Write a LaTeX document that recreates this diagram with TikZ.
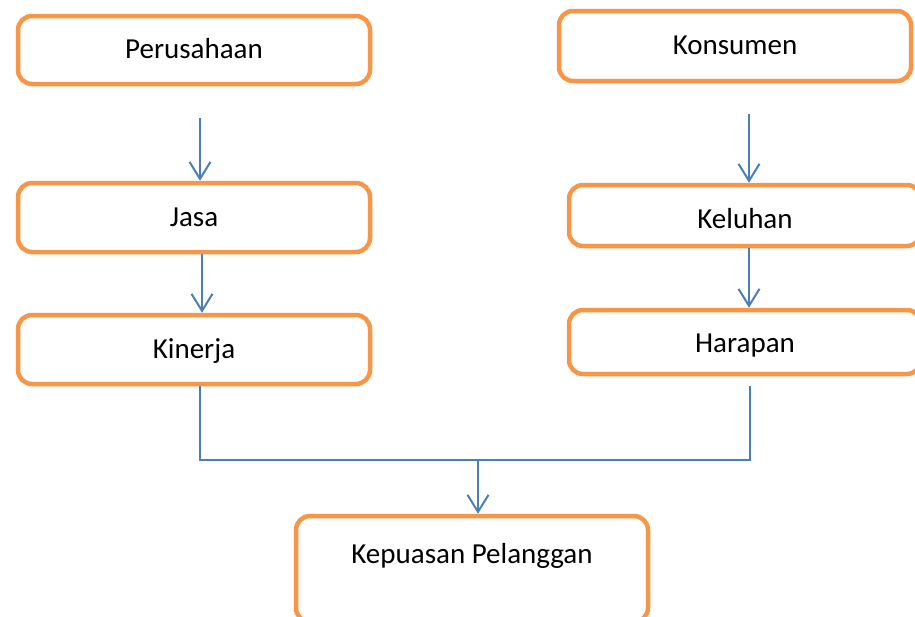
\documentclass[tikz,border=0pt]{standalone}
\usepackage{fontspec}
\setmainfont{Carlito}
\usetikzlibrary{arrows.meta}
\definecolor{boxorange}{HTML}{F79646}
\definecolor{linkblue}{HTML}{4A7EBB}
\tikzset{
  boxfont/.style={font=\fontsize{29}{34}\selectfont, text=black},
  flowbox/.style={draw=boxorange, line width=4.5pt, rounded corners=14pt, fill=white,
    minimum width=352pt, inner sep=0pt, boxfont, text height=17pt, text depth=0pt},
  conn/.style={draw=linkblue, line width=2pt},
  arr/.style={conn, -{Straight Barb[length=17pt,width=21pt,line width=2pt]}},
}
\begin{document}
\begin{tikzpicture}[x=1pt,y=-1pt]
\useasboundingbox (0,0) rectangle (915,616);
\clip (0,0) rectangle (915,616);
\node[flowbox, minimum height=68pt] (per) at (194,50) {Perusahaan};
\node[flowbox, minimum height=69pt] (jasa) at (194,217.5) {Jasa};
\node[flowbox, minimum height=69pt] (kin) at (194,349.5) {Kinerja};
\node[flowbox, minimum height=70pt] (kon) at (735,46) {Konsumen};
\node[flowbox, minimum height=61pt] (kel) at (745,215.5) {\raisebox{-4pt}{Keluhan}};
\node[flowbox, minimum height=64pt] (har) at (745,342) {\raisebox{-2pt}{Harapan}};
\node[flowbox, minimum height=106pt] (kep) at (472,569) {};
\node[boxfont, inner sep=0pt, anchor=base] (kept) at (472,563) {Kepuasan Pelanggan};
\coordinate (jm) at (478,460);
\draw[arr, shorten <=32pt] ([xshift=6pt]per.south) -- ([xshift=6pt]jasa.north);
\draw[arr] ([xshift=8pt]jasa.south) -- ([xshift=8pt]kin.north);
\draw[arr, shorten <=31pt] ([xshift=4pt]kel.north |- kon.south) -- ([xshift=4pt]kel.north);
\draw[arr] ([xshift=4pt]kel.south) -- ([xshift=4pt]har.north);
\draw[conn] ([xshift=6pt]kin.south) |- (jm) -| ([xshift=5pt,yshift=-10pt]har.south);
\draw[arr] (jm) -- ([xshift=6pt]kep.north);
\end{tikzpicture}
\end{document}
